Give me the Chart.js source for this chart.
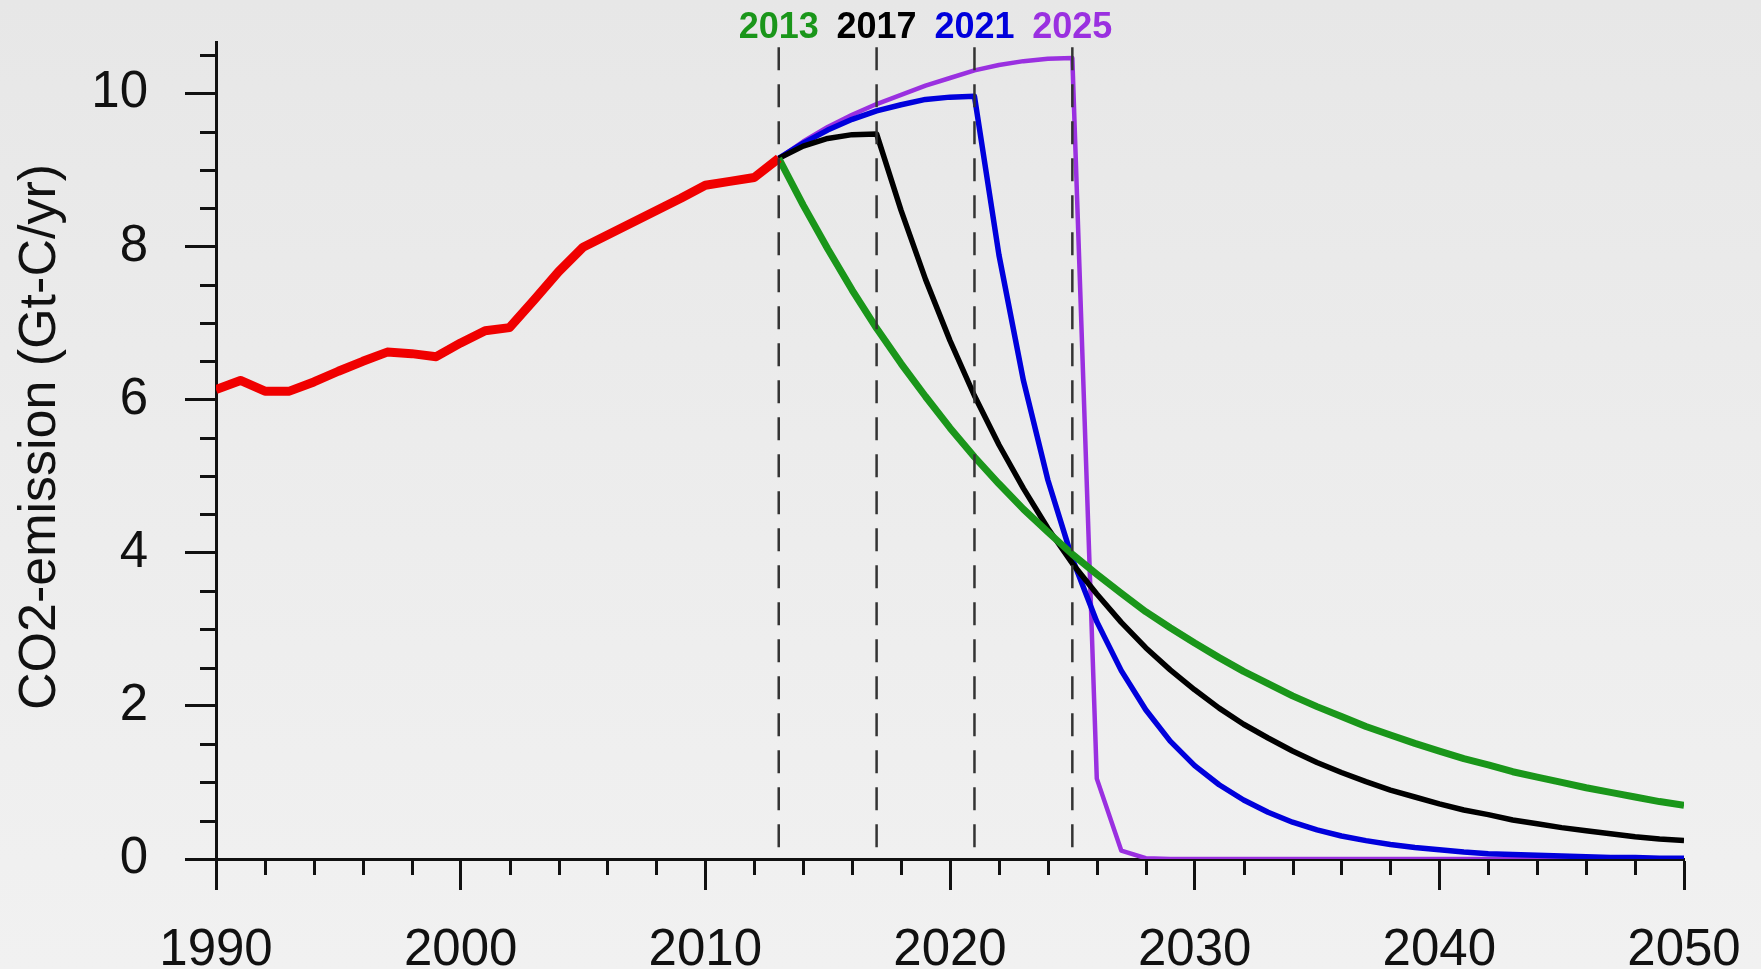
<!DOCTYPE html>
<html>
<head>
<meta charset="utf-8">
<script src="https://cdn.jsdelivr.net/npm/chart.js@4.4.1/dist/chart.umd.min.js"></script>
<style>
  html, body { margin: 0; padding: 0; }
  body { width: 1761px; height: 969px; overflow: hidden;
         background: linear-gradient(to bottom, #e7e7e7 0%, #ececec 45%, #f1f1f1 100%); }
  #c { position: absolute; left: 0; top: 0; }
</style>
</head>
<body>
<canvas id="c" width="1761" height="969"></canvas>
<script>
// observed emissions 1990-2013
const histYears = [1990, 1991, 1992, 1993, 1994, 1995, 1996, 1997, 1998, 1999, 2000, 2001,
                   2002, 2003, 2004, 2005, 2006, 2007, 2008, 2009, 2010, 2011, 2012, 2013];
const histVals = [6.13, 6.25, 6.11, 6.11, 6.23, 6.37, 6.5, 6.62, 6.6, 6.56, 6.74, 6.9,
                  6.94, 7.3, 7.67, 7.99, 8.15, 8.31, 8.47, 8.63, 8.8, 8.85, 8.9, 9.15];

// scenarios 2013-2050, one value per year
const scenYears = Array.from({ length: 38 }, (_, i) => 2013 + i);
const peak2013 = [9.15, 8.54, 7.97, 7.43, 6.93, 6.47, 6.04, 5.63, 5.25, 4.9, 4.57, 4.27, 3.98,
                  3.72, 3.47, 3.23, 3.02, 2.82, 2.63, 2.45, 2.29, 2.13, 1.99, 1.86, 1.73, 1.62,
                  1.51, 1.41, 1.31, 1.23, 1.14, 1.07, 1.0, 0.93, 0.87, 0.81, 0.75, 0.7];
const peak2017 = [9.15, 9.31, 9.41, 9.46, 9.47, 8.47, 7.57, 6.77, 6.05, 5.41, 4.84, 4.32, 3.86,
                  3.46, 3.09, 2.76, 2.47, 2.21, 1.97, 1.76, 1.58, 1.41, 1.26, 1.13, 1.01, 0.9,
                  0.81, 0.72, 0.64, 0.58, 0.51, 0.46, 0.41, 0.37, 0.33, 0.29, 0.26, 0.24];
const peak2021 = [9.15, 9.35, 9.52, 9.66, 9.77, 9.85, 9.92, 9.95, 9.96, 7.89, 6.25, 4.95, 3.92,
                  3.1, 2.46, 1.95, 1.54, 1.22, 0.97, 0.77, 0.61, 0.48, 0.38, 0.3, 0.24, 0.19,
                  0.15, 0.12, 0.09, 0.07, 0.06, 0.05, 0.04, 0.03, 0.02, 0.02, 0.01, 0.01];
const peak2025 = [9.15, 9.37, 9.56, 9.72, 9.86, 9.98, 10.1, 10.2, 10.3, 10.37, 10.42, 10.45, 10.46,
                  1.05, 0.11, 0.01, 0, 0, 0, 0, 0, 0, 0, 0, 0, 0,
                  0, 0, 0, 0, 0, 0, 0, 0, 0, 0, 0, 0];

const peakYears = [2013, 2017, 2021, 2025];
const peakColors = ['#1a961a', '#000000', '#0000dc', '#9a30e0'];
const dashTop = 10.6;

const xTickVals = [1990, 2000, 2010, 2020, 2030, 2040, 2050];
const yTickVals = [0, 2, 4, 6, 8, 10];
const yTitle = 'CO2-emission (Gt-C/yr)';

const FONT = '"Liberation Sans", Arial, Helvetica, sans-serif';
const AXIS = '#111111';

const pts = (xs, ys) => xs.map((x, i) => ({ x: x, y: ys[i] }));

const datasets = [];
peakYears.forEach((yr, i) => {
    datasets.push({
        label: 'start ' + yr,
        data: [{ x: yr, y: dashTop }, { x: yr, y: 0 }],
        borderColor: '#333333',
        borderWidth: 2.5,
        borderDash: [23, 14],
        order: 0
    });
});
datasets.push({ label: 'observed', data: pts(histYears, histVals), borderColor: '#f00000', borderWidth: 9, order: 1 });
datasets.push({ label: '2013', data: pts(scenYears, peak2013), borderColor: peakColors[0], borderWidth: 7, order: 2 });
datasets.push({ label: '2017', data: pts(scenYears, peak2017), borderColor: peakColors[1], borderWidth: 5.5, order: 3 });
datasets.push({ label: '2021', data: pts(scenYears, peak2021), borderColor: peakColors[2], borderWidth: 5.5, order: 4 });
datasets.push({ label: '2025', data: pts(scenYears, peak2025), borderColor: peakColors[3], borderWidth: 4.5, order: 5 });

// minor ticks, the y title and the coloured start-year labels above the plot
const extras = {
    id: 'extras',
    afterDraw(chart) {
        const ctx = chart.ctx;
        const xs = chart.scales.x, ys = chart.scales.y;
        ctx.save();
        ctx.strokeStyle = AXIS;
        ctx.lineWidth = 3;
        ctx.beginPath();
        for (let v = 0.5; v < ys.max; v += 0.5) {
            if (v % 2 === 0) continue;
            const p = Math.round(ys.getPixelForValue(v)) + 0.5;
            ctx.moveTo(xs.left - 16, p);
            ctx.lineTo(xs.left, p);
        }
        for (let v = xs.min + 2; v < xs.max; v += 2) {
            if (v % 10 === 0) continue;
            const p = Math.round(xs.getPixelForValue(v)) + 0.5;
            ctx.moveTo(p, ys.bottom);
            ctx.lineTo(p, ys.bottom + 16);
        }
        ctx.stroke();

        ctx.font = 'bold 36px ' + FONT;
        ctx.textAlign = 'center';
        ctx.textBaseline = 'middle';
        peakYears.forEach((yr, i) => {
            ctx.fillStyle = peakColors[i];
            ctx.fillText(String(yr), xs.getPixelForValue(yr), 28);
        });

        ctx.translate(55, 437);
        ctx.rotate(-Math.PI / 2);
        ctx.font = '52px ' + FONT;
        ctx.fillStyle = AXIS;
        ctx.textBaseline = 'alphabetic';
        ctx.fillText(yTitle, 0, 0);
        ctx.restore();
    }
};

new Chart(document.getElementById('c').getContext('2d'), {
    type: 'line',
    data: { datasets: datasets },
    options: {
        responsive: false,
        animation: false,
        devicePixelRatio: 1,
        layout: { padding: { left: 0, top: 42, right: 77, bottom: 0 } },
        elements: {
            point: { radius: 0 },
            line: { tension: 0, borderJoinStyle: 'round', fill: false }
        },
        plugins: { legend: { display: false }, tooltip: { enabled: false } },
        scales: {
            x: {
                type: 'linear',
                min: 1990,
                max: 2050,
                afterFit: s => { s.height = 110; s.paddingLeft = 0; s.paddingRight = 0; },
                afterBuildTicks: s => { s.ticks = xTickVals.map(v => ({ value: v })); },
                grid: { drawOnChartArea: false, drawTicks: true, tickLength: 31, tickWidth: 3, tickColor: AXIS },
                border: { display: true, width: 3, color: AXIS },
                ticks: {
                    autoSkip: false, maxRotation: 0, padding: 30,
                    color: AXIS, font: { family: FONT, size: 51 },
                    callback: v => String(v)
                }
            },
            y: {
                type: 'linear',
                min: 0,
                max: 10.67,
                afterFit: s => { s.width = 216; s.paddingTop = 0; s.paddingBottom = 0; },
                afterBuildTicks: s => { s.ticks = yTickVals.map(v => ({ value: v })); },
                grid: { drawOnChartArea: false, drawTicks: true, tickLength: 31, tickWidth: 3, tickColor: AXIS },
                border: { display: true, width: 3, color: AXIS },
                ticks: {
                    padding: 37, color: AXIS, font: { family: FONT, size: 51 },
                    callback: v => String(v)
                }
            }
        }
    },
    plugins: [extras]
});
</script>
</body>
</html>
